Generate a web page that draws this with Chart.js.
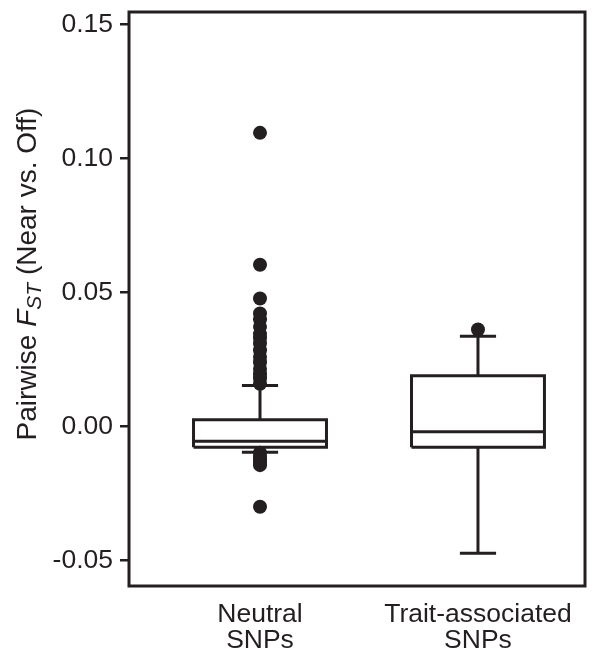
<!DOCTYPE html>
<html>
<head>
<meta charset="utf-8">
<script src="https://cdn.jsdelivr.net/npm/chart.js@4.4.1/dist/chart.umd.min.js"></script>
<style>
  html, body { margin: 0; padding: 0; background: #fff; }
</style>
</head>
<body>
<canvas id="fstChart" width="600" height="653"></canvas>
<script>
/* Pairwise FST box plot, neutral vs trait-associated SNPs */

const categories = [['Neutral', 'SNPs'], ['Trait-associated', 'SNPs']];
const groupX = [1, 2];
const q1 = [-0.0077, -0.0077];
const median = [-0.0055, -0.0019];
const q3 = [0.0025, 0.0190];
const whiskerLow = [-0.0096, -0.0473];
const whiskerHigh = [0.0153, 0.0337];
const neutralOutliers = [
    0.1096, 0.0604, 0.0478, 0.0422, 0.0400, 0.0372, 0.0345, 0.0330,
    0.0310, 0.0285, 0.0260, 0.0240, 0.0215, 0.0195, 0.0180, 0.0160,
    -0.0098, -0.0110, -0.0122, -0.0133, -0.0144, -0.0299,
];
const traitOutliers = [0.0362];
const yTicks = [-0.05, 0.00, 0.05, 0.10, 0.15];
const yTitleParts = [
    { text: 'Pairwise ', italic: false, sub: false },
    { text: 'F', italic: true, sub: false },
    { text: 'ST', italic: true, sub: true },
    { text: ' (Near vs. Off)', italic: false, sub: false },
];

const INK = '#231f20';
const FONT = '"Liberation Sans", Arial, sans-serif';
const boxHalf = 0.305;
const capHalf = 0.083;

function boxSegments(i) {
    const x = groupX[i];
    const gap = { x: x, y: null };
    return [
        { x: x - boxHalf, y: q1[i] }, { x: x + boxHalf, y: q1[i] },
        { x: x + boxHalf, y: q3[i] }, { x: x - boxHalf, y: q3[i] },
        { x: x - boxHalf, y: q1[i] }, gap,
        { x: x - boxHalf, y: median[i] }, { x: x + boxHalf, y: median[i] }, gap,
        { x: x, y: q3[i] }, { x: x, y: whiskerHigh[i] }, gap,
        { x: x - capHalf, y: whiskerHigh[i] }, { x: x + capHalf, y: whiskerHigh[i] }, gap,
        { x: x, y: q1[i] }, { x: x, y: whiskerLow[i] }, gap,
        { x: x - capHalf, y: whiskerLow[i] }, { x: x + capHalf, y: whiskerLow[i] },
    ];
}

const lineStyle = {
    showLine: true,
    spanGaps: false,
    borderColor: INK,
    borderWidth: 3,
    borderJoinStyle: 'miter',
    borderCapStyle: 'butt',
    pointRadius: 0,
    pointHoverRadius: 0,
};

const dotStyle = {
    showLine: false,
    pointRadius: 7,
    pointBackgroundColor: INK,
    pointBorderWidth: 0,
};

const frame = {
    id: 'frame',
    afterDatasetsDraw(chart) {
        const a = chart.chartArea;
        const ctx = chart.ctx;
        ctx.save();
        ctx.strokeStyle = INK;
        ctx.lineWidth = 3;
        ctx.lineJoin = 'miter';
        ctx.strokeRect(a.left, a.top, a.right - a.left, a.bottom - a.top);
        ctx.restore();
    },
};

const yTitle = {
    id: 'yTitle',
    afterDraw(chart) {
        const ctx = chart.ctx;
        const fontFor = p => (p.italic ? 'italic ' : '') + (p.sub ? '21px ' : '28px ') + FONT;
        ctx.save();
        let total = 0;
        yTitleParts.forEach(p => { ctx.font = fontFor(p); total += ctx.measureText(p.text).width; });
        ctx.translate(36, 274);
        ctx.rotate(-Math.PI / 2);
        ctx.fillStyle = INK;
        ctx.textBaseline = 'alphabetic';
        let x = -total / 2;
        yTitleParts.forEach(p => {
            ctx.font = fontFor(p);
            ctx.fillText(p.text, x, p.sub ? 5 : 0);
            x += ctx.measureText(p.text).width;
        });
        ctx.restore();
    },
};

new Chart(document.getElementById('fstChart'), {
    type: 'scatter',
    data: {
        datasets: [
            Object.assign({ data: boxSegments(0) }, lineStyle),
            Object.assign({ data: boxSegments(1) }, lineStyle),
            Object.assign({ data: neutralOutliers.map(v => ({ x: groupX[0], y: v })) }, dotStyle),
            Object.assign({ data: traitOutliers.map(v => ({ x: groupX[1], y: v })) }, dotStyle),
        ],
    },
    options: {
        responsive: false,
        animation: false,
        layout: { padding: { left: 0, right: 15, top: 12, bottom: 0 } },
        plugins: {
            legend: { display: false },
            tooltip: { enabled: false },
        },
        scales: {
            x: {
                type: 'linear',
                min: 0.399,
                max: 2.491,
                afterBuildTicks: s => { s.ticks = groupX.map(v => ({ value: v })); },
                afterFit: s => { s.height = 67; s.paddingLeft = 0; s.paddingRight = 0; },
                ticks: {
                    color: INK,
                    font: { family: FONT, size: 26.5, lineHeight: 0.98 },
                    padding: 8,
                    maxRotation: 0,
                    callback: v => categories[groupX.indexOf(v)],
                },
                grid: { display: false },
                border: { display: false },
            },
            y: {
                min: -0.0595,
                max: 0.1547,
                afterBuildTicks: s => { s.ticks = yTicks.map(v => ({ value: v })); },
                afterFit: s => { s.width = 129; s.paddingTop = 0; s.paddingBottom = 0; },
                ticks: {
                    color: INK,
                    font: { family: FONT, size: 26.5 },
                    padding: 7,
                    callback: v => v.toFixed(2),
                },
                grid: {
                    drawOnChartArea: false,
                    drawTicks: true,
                    tickLength: 9,
                    color: INK,
                    lineWidth: 2.5,
                },
                border: { display: false },
            },
        },
    },
    plugins: [frame, yTitle],
});
</script>
</body>
</html>
